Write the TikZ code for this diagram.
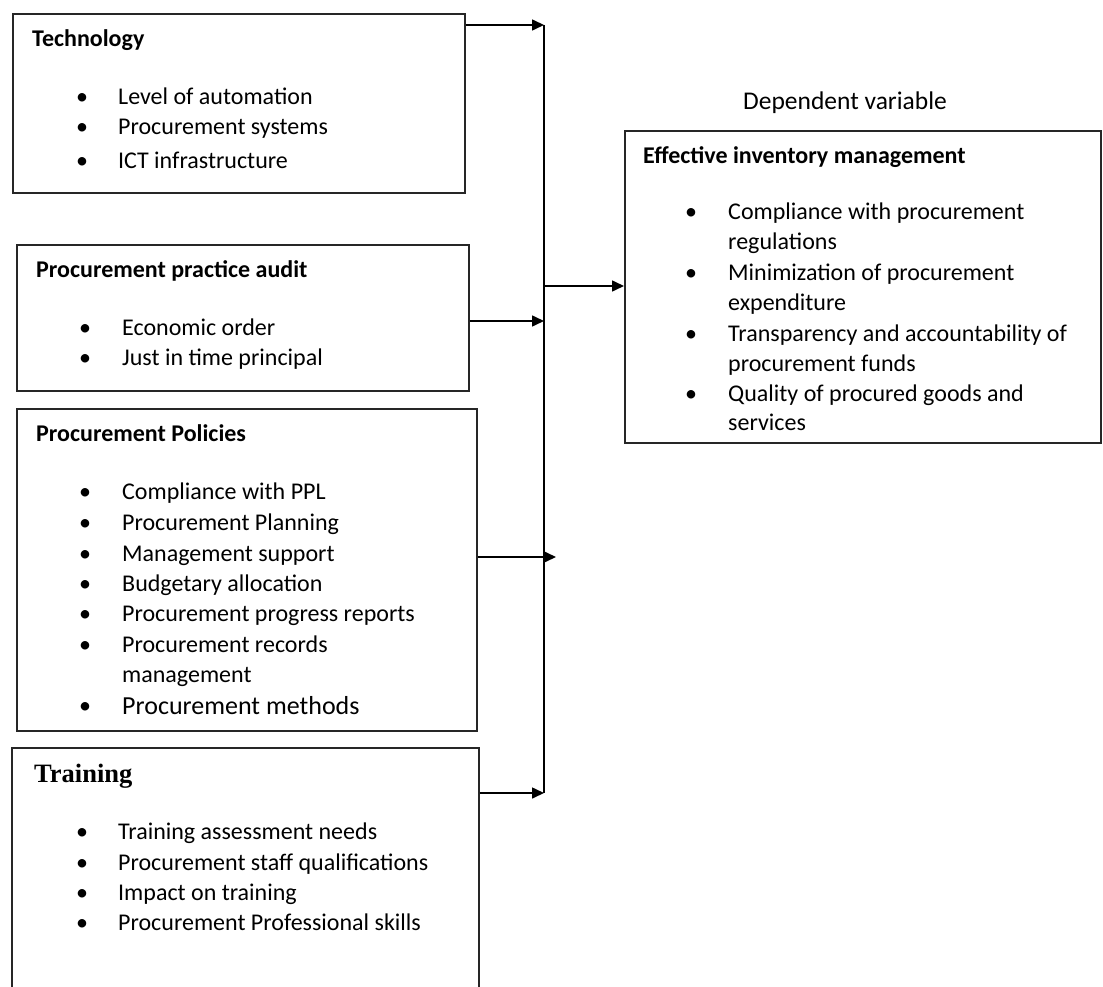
\documentclass[tikz,border=0pt]{standalone}
\usepackage{fontspec}
\setmainfont{Carlito}
\newfontfamily\serifbold{Liberation Serif}
\usetikzlibrary{arrows.meta}
\newcommand{\twolines}[2]{\begin{tabular}[t]{@{}l@{}}#1\\#2\end{tabular}}
\begin{document}
\begin{tikzpicture}[x=1pt,y=-1pt,
  box/.style={draw=black!85,line width=1.6pt,inner sep=0pt,anchor=north west},
  ttl/.style={anchor=base west,inner sep=0pt,font=\fontsize{24}{30}\selectfont\bfseries},
  itm/.style={anchor=base west,inner sep=0pt,font=\fontsize{24}{30.5}\selectfont},
  bul/.style={anchor=base,inner sep=0pt,font=\fontsize{24}{30}\selectfont},
  arr/.style={line width=1.6pt,-{Triangle[length=12pt,width=11pt]}},
  bus/.style={line width=1.6pt}]
\clip (0,0) rectangle (1103,987);
% boxes
\node[box,minimum width=452pt,minimum height=179pt] (tech) at (12,13) {};
\node[box,minimum width=452pt,minimum height=146pt] (audit) at (16,244) {};
\node[box,minimum width=460pt,minimum height=322pt] (pol) at (16,408) {};
\node[box,minimum width=467pt,minimum height=270pt] (train) at (11,747) {};
\node[box,minimum width=476pt,minimum height=312pt] (dv) at (624,130) {};
% Technology
\node[ttl] (techT) at (32,47) {Technology};
\foreach \y/\t [count=\i] in {98/Level of automation,128/Procurement  systems,162/ICT infrastructure}{
  \node[bul] (tb\i) at (82,\y+7) {•};
  \node[itm] (ti\i) at (118,\y+7) {\t};
}
% Audit
\node[ttl] (audT) at (36,277) {Procurement  practice audit};
\foreach \y/\t [count=\i] in {328/Economic order,358/Just in time principal}{
  \node[bul] (ab\i) at (85,\y+7) {•};
  \node[itm] (ai\i) at (122,\y+7) {\t};
}
% Policies
\node[ttl] (polT) at (36,441) {Procurement  Policies};
\foreach \y/\t [count=\i] in {492/Compliance with PPL,523/Procurement  Planning,554/Management support,584/Budgetary allocation,614/Procurement  progress reports}{
  \node[bul] (pb\i) at (85,\y+7) {•};
  \node[itm] (pi\i) at (122,\y+7) {\t};
}
\node[bul] (pb6) at (85,652) {•};
\node[itm] (pi6) at (122,652) {\twolines{Procurement  records}{management}};
\node[bul] (pb7) at (85,713) {•};
\node[itm,font=\fontsize{26}{30}\selectfont] (pi7) at (122,714) {Procurement methods};
% Training
\node[ttl,font=\fontsize{26.5}{30}\serifbold\bfseries] (trT) at (34,782) {Training};
\foreach \y/\t [count=\i] in {832/Training assessment needs,863/Procurement  staff qualifications,893/Impact on  training,923/Procurement  Professional skills}{
  \node[bul] (rb\i) at (82,\y+7) {•};
  \node[itm] (ri\i) at (118,\y+7) {\t};
}
% Dependent variable
\node[anchor=base west,inner sep=0pt,font=\fontsize{25.5}{30}\selectfont] (dvlab) at (743,110) {Dependent variable};
\node[ttl] (dvT) at (643,164) {Effective inventory management};
\node[bul] (db1) at (691,220) {•};
\node[itm,font=\fontsize{24}{30}\selectfont] (di1) at (728,220) {\twolines{Compliance with procurement}{regulations}};
\node[bul] (db2) at (691,280) {•};
\node[itm,font=\fontsize{24}{30}\selectfont] (di2) at (728,280) {\twolines{Minimization of procurement}{expenditure}};
\node[bul] (db3) at (691,341) {•};
\node[itm,font=\fontsize{24}{30}\selectfont] (di3) at (728,341) {\twolines{Transparency and accountability of}{procurement  funds}};
\node[bul] (db4) at (691,401) {•};
\node[itm,font=\fontsize{24}{29}\selectfont] (di4) at (728,401) {\twolines{Quality of procured  goods and}{services}};
% connectors
\coordinate (b1) at (544,25);
\coordinate (b2) at (544,321);
\coordinate (b3) at (556,557);
\coordinate (b4) at (544,793);
\coordinate (bdv) at (544,286);
\draw[bus] (b1) -- (b4);
\draw[arr] (tech.east |- b1) -- (b1);
\draw[arr] (audit.east |- b2) -- (b2);
\draw[arr] (pol.east |- b3) -- (b3);
\draw[arr] (train.east |- b4) -- (b4);
\draw[arr] (bdv) -- (dv.west |- bdv);
\end{tikzpicture}
\end{document}
